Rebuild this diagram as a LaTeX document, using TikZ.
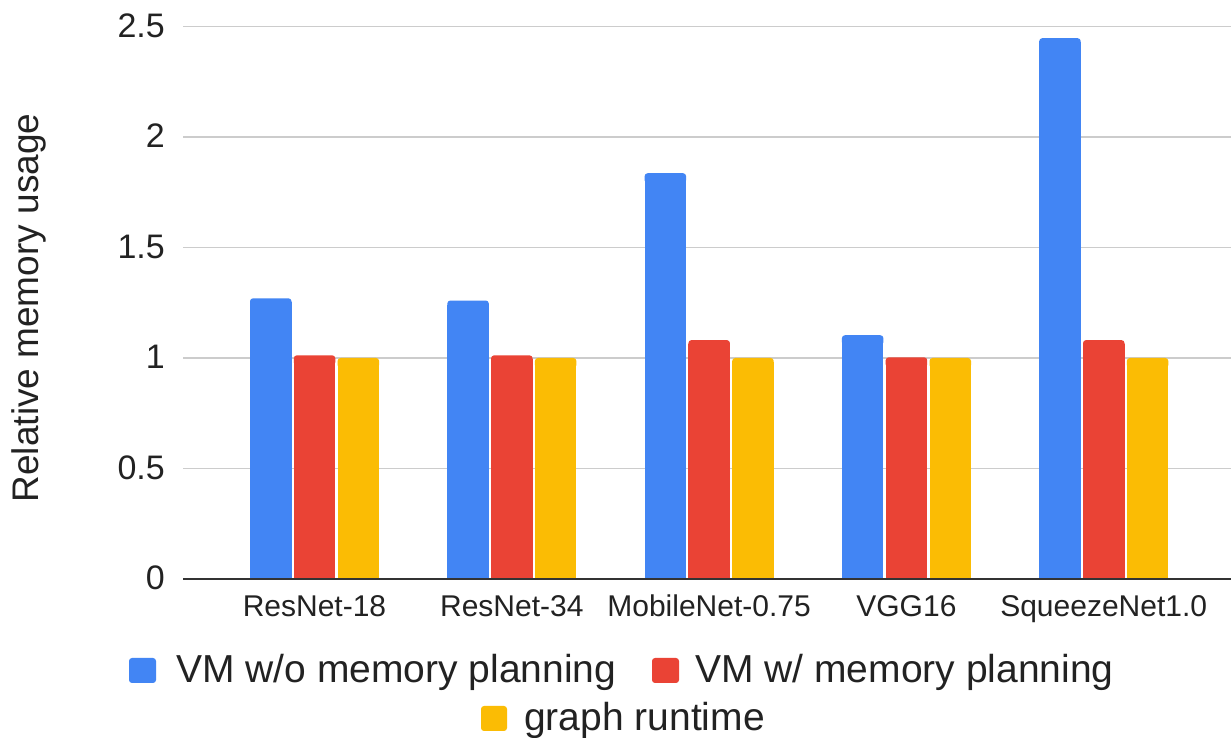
\documentclass[tikz,border=0pt]{standalone}
\usepackage{fontspec}
\setmainfont{Liberation Sans}
\definecolor{vmblue}{HTML}{4285F4}
\definecolor{vmred}{HTML}{EA4335}
\definecolor{grtyellow}{HTML}{FBBC04}
\definecolor{gridgray}{HTML}{CCCCCC}
\definecolor{axisgray}{HTML}{333333}
\definecolor{labelink}{HTML}{222222}

% one bar: colour, left x, value (rounded top corners only)
\newcommand\chartbar[3]{%
  \fill[#1] (#2,159) rectangle ({#2+41.5},{159+221*#3-4});
  \fill[#1, rounded corners=3] (#2,{159+221*#3-10}) rectangle ({#2+41.5},{159+221*#3});
}

\begin{document}
\begin{tikzpicture}[x=1pt,y=1pt,
  ytick/.style={inner sep=0pt, text=labelink, font=\fontsize{34}{40}\selectfont},
  xtick/.style={inner sep=0pt, text=labelink, anchor=base, font=\fontsize{30}{36}\selectfont},
  legtext/.style={inner sep=0pt, text=labelink, anchor=base west, font=\fontsize{39}{46}\selectfont},
  legbox/.style={rounded corners=3}]
\useasboundingbox[fill=white] (0,0) rectangle (1231,738);

% horizontal grid
\foreach \v in {0.5,1,1.5,2,2.5}
  \draw[gridgray, line width=1.5] (183,{159+221*\v}) -- (1231,{159+221*\v});

% value axis labels
\foreach \v/\t in {0/0,0.5/0.5,1/1,1.5/1.5,2/2,2.5/2.5}
  \node[ytick, anchor=base east] (ytick-\t) at (165,{159+221*\v-10.7}) {\t};

% axis title
\node[inner sep=0pt, text=labelink, rotate=90, anchor=base,
      font=\fontsize{37}{44}\selectfont] (ytitle) at (38,430) {Relative memory usage};

% bars per model
\foreach \g/\a/\b/\c/\name in {0/1.27/1.012/1.0/ResNet-18,
                              1/1.26/1.012/1.0/ResNet-34,
                              2/1.836/1.081/1.0/MobileNet-0.75,
                              3/1.103/1.003/1.0/VGG16,
                              4/2.447/1.081/1.0/SqueezeNet1.0} {
  \pgfmathsetmacro\xb{250+197.3*\g}
  \chartbar{vmblue}{\xb}{\a}
  \pgfmathsetmacro\xr{\xb+43.8}
  \chartbar{vmred}{\xr}{\b}
  \pgfmathsetmacro\xy{\xb+87.6}
  \chartbar{grtyellow}{\xy}{\c}
  \node[xtick] (model-\g) at ({\xb+64.5},121) {\name};
}

% baseline axis
\draw[axisgray, line width=2] (183,159) -- (1231,159);

% legend
\fill[vmblue, legbox] (129,55) rectangle (156,80);
\node[legtext] (leg-vmo) at (176,55.3) {VM w/o memory planning};
\fill[vmred, legbox] (652,55) rectangle (679,80);
\node[legtext] (leg-vmw) at (695,55.3) {VM w/ memory planning};
\fill[grtyellow, legbox] (481,7) rectangle (507,32);
\node[legtext] (leg-graph) at (524,7.3) {graph runtime};
\end{tikzpicture}
\end{document}
